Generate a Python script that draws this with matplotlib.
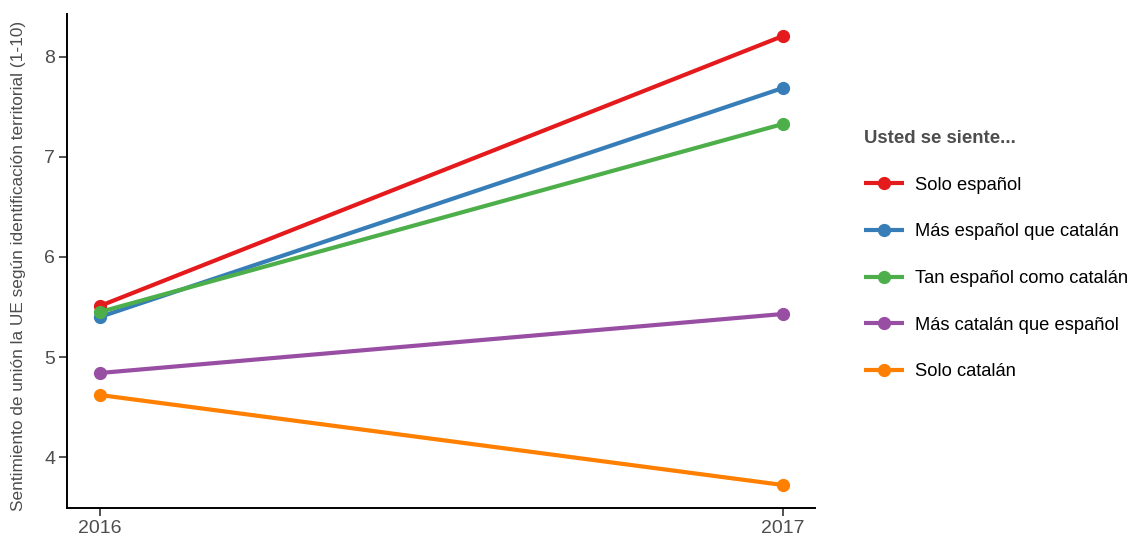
import matplotlib
matplotlib.use("Agg")
import matplotlib.pyplot as plt

years = [2016, 2017]
categories = ["Solo español", "Más español que catalán", "Tan español como catalán",
              "Más catalán que español", "Solo catalán"]
solo_espanol = [5.51, 8.21]
mas_espanol = [5.40, 7.69]
tan_espanol = [5.45, 7.33]
mas_catalan = [4.84, 5.43]
solo_catalan = [4.62, 3.72]
series = [solo_espanol, mas_espanol, tan_espanol, mas_catalan, solo_catalan]
colors = ["#E41A1C", "#377EB8", "#4DAF4A", "#984EA3", "#FF7F00"]
yticks = [4, 5, 6, 7, 8]

plt.rcParams['font.family'] = ['Liberation Sans', 'DejaVu Sans']

fig = plt.figure(figsize=(11.42, 5.38), dpi=100)
W, H = 1142, 538
ax = fig.add_axes([67 / W, 30 / H, (815 - 67) / W, (508 - 14) / H])

for vals, lab, c in zip(series, categories, colors):
    ax.plot(years, vals, color=c, lw=3.0, marker='o', markersize=8.5, label=lab,
            solid_capstyle='butt')

ax.set_xlim(2016 - 0.048, 2017 + 0.047)
ax.set_ylim(3.49, 8.43)
ax.set_xticks(years)
ax.set_xticklabels([str(y) for y in years])
ax.set_yticks(yticks)
ax.set_yticklabels([str(t) for t in yticks])
for s in ['top', 'right']:
    ax.spines[s].set_visible(False)
for s in ['left', 'bottom']:
    ax.spines[s].set_linewidth(1.4)
    ax.spines[s].set_color('black')
ax.tick_params(axis='both', direction='out', length=5.5, width=1.2, color='#333333',
               labelcolor='#4D4D4D', labelsize=14, pad=3)
ax.set_ylabel("Sentimiento de unión la UE según identificación territorial (1-10)",
              fontsize=12.4, color='#4D4D4D')
ax.yaxis.set_label_coords(-41 / 748, 0.49)

leg = fig.legend(loc='upper left', bbox_to_anchor=(864 / W, 1 - 130 / H),
                 frameon=False, fontsize=13.2, title="Usted se siente...",
                 title_fontproperties={'weight': 'bold', 'size': 13.4},
                 handlelength=2.2, handletextpad=0.6, labelspacing=1.62,
                 borderaxespad=0, borderpad=0)
leg._legend_box.align = "left"
leg.get_title().set_color('#4D4D4D')
leg._legend_box._children[0].set_offset if False else None

fig.savefig("out.png", dpi=100)
